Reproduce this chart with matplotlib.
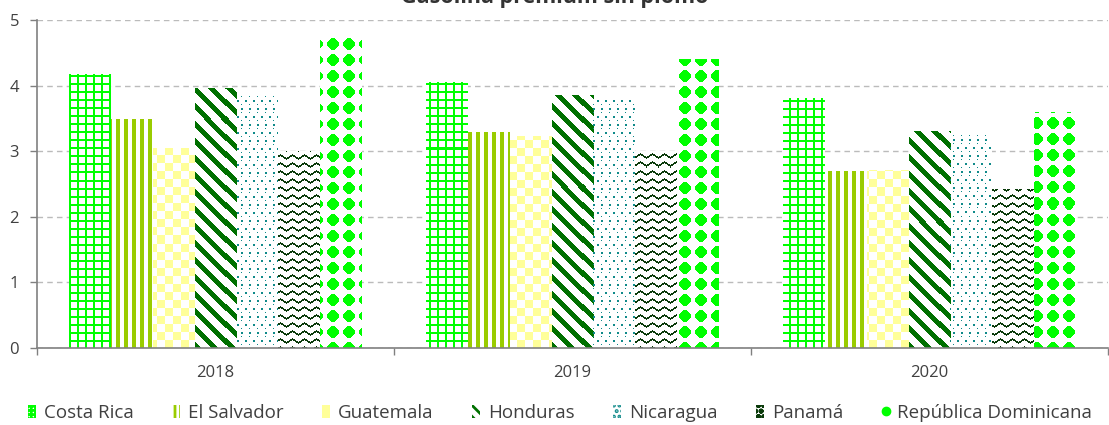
import matplotlib
matplotlib.use("Agg")
import matplotlib.pyplot as plt
from matplotlib.patches import Patch
from matplotlib.lines import Line2D
from matplotlib.colors import to_rgba
import numpy as np

# data
years = ["2018", "2019", "2020"]
countries = ["Costa Rica", "El Salvador", "Guatemala", "Honduras",
             "Nicaragua", "Panamá", "República Dominicana"]
costa_rica = [4.18, 4.06, 3.81]
el_salvador = [3.49, 3.30, 2.70]
guatemala = [3.05, 3.23, 2.72]
honduras = [3.97, 3.86, 3.31]
nicaragua = [3.84, 3.78, 3.25]
panama = [3.00, 3.01, 2.42]
rep_dominicana = [4.74, 4.40, 3.60]
series = [costa_rica, el_salvador, guatemala, honduras, nicaragua, panama, rep_dominicana]

colors = ["#00FF00", "#99CC00", "#FFFF99", "#007000", "#108A8A", "#0A3A0A", "#00FF00"]

text_color = "#404040"
plt.rcParams["font.family"] = ["Open Sans", "DejaVu Sans"]
plt.rcParams["font.size"] = 12
plt.rcParams["text.color"] = text_color
plt.rcParams["xtick.color"] = "#808080"
plt.rcParams["ytick.color"] = "#808080"
plt.rcParams["xtick.labelcolor"] = text_color
plt.rcParams["ytick.labelcolor"] = text_color

W, H = 1109, 425
AX_W, AX_H = 1071, 328   # axes size in pixels
fig = plt.figure(figsize=(W / 100, H / 100), dpi=100)
ax = fig.add_axes([37 / W, (H - 348) / H, AX_W / W, AX_H / H])


# fill patterns, in screen pixels of the axes area
yy, xx = np.indices((AX_H, AX_W))

def pattern_mask(i):
    if i == 0:   # grid
        return (xx % 8 < 2) | (yy % 8 < 2)
    if i == 1:   # vertical stripes
        return (xx + 1) % 8 < 4
    if i == 2:   # checkerboard
        return ((xx // 8) + (yy // 8)) % 2 == 0
    if i == 3:   # wide downward diagonal
        return (xx - yy) % 17 < 7
    if i == 4:   # dots
        big = (xx % 8 < 2) & (yy % 16 < 2)
        big |= ((xx + 4) % 8 < 2) & ((yy + 8) % 16 < 2)
        small = ((xx + 4) % 8 == 0) & ((yy + 4) % 8 == 0) & ~big
        return big | small
    if i == 5:   # waves
        wave = np.round(1.6 * np.sin(2 * np.pi * xx / 12)).astype(int)
        return (yy + wave) % 8 < 2
    # diamonds
    dx = (xx % 16) - 7.5
    dy = (yy % 16) - 7.5
    return (np.abs(dx) + np.abs(dy) <= 7.5) & (dx * dx + dy * dy <= 36)

x = np.arange(len(years))
width = 0.1176
for i, (vals, name) in enumerate(zip(series, countries)):
    bars = ax.bar(x + (i - 3) * width, vals, width, color="white",
                  linewidth=0, zorder=2)
    tex = np.zeros((AX_H, AX_W, 4))
    tex[pattern_mask(i)] = to_rgba(colors[i])
    for b in bars:
        im = ax.imshow(tex, extent=(-0.5, 2.5, 0, 5), aspect="auto",
                       interpolation="nearest", zorder=3)
        im.set_clip_path(b)

ax.set_xlim(-0.5, 2.5)
ax.set_ylim(0, 5)
ax.set_yticks(range(6))
ax.set_xticks(x)
ax.set_xticklabels(years)
ax.set_xticks([-0.5, 0.5, 1.5, 2.5], minor=True)
ax.tick_params(axis="x", which="major", length=0, pad=12)
ax.tick_params(axis="x", which="minor", length=5, width=1)
ax.tick_params(axis="y", length=5, width=1, pad=8)

ax.grid(axis="y", color="#BBBBBB", linestyle=(0, (4, 3)), linewidth=1, zorder=0)
ax.set_axisbelow(True)
for side in ["top", "right"]:
    ax.spines[side].set_visible(False)
for side in ["left", "bottom"]:
    ax.spines[side].set_color("#808080")
    ax.spines[side].set_linewidth(1.2)
    ax.spines[side].set_zorder(4)

fig.text(0.5, 1 - 3.5 / H, "Gasolina premium sin plomo", ha="center", va="baseline",
         fontsize=15.5, weight="bold", color="#333333")

# small legend keys
leg_hatch = ["++++", "|||", None, "\\\\\\", "...", "ooo", None]
handles = []
for i, name in enumerate(countries):
    if i == 6:
        handles.append(Line2D([], [], marker="o", color=colors[i], linestyle="none",
                              markersize=6, label=name))
    elif i == 2:
        handles.append(Patch(facecolor=colors[i], linewidth=0, label=name))
    else:
        handles.append(Patch(facecolor="white", edgecolor=colors[i], hatch=leg_hatch[i],
                             linewidth=0, label=name))
plt.rcParams["hatch.linewidth"] = 2.0

fig.legend(handles=handles, loc="center", bbox_to_anchor=(560 / W, 1 - 413 / H), ncol=7,
           frameon=False, handlelength=0.45, handleheight=0.7,
           handletextpad=0.4, columnspacing=2.05, fontsize=13.5)

fig.savefig("out.png", dpi=100)
